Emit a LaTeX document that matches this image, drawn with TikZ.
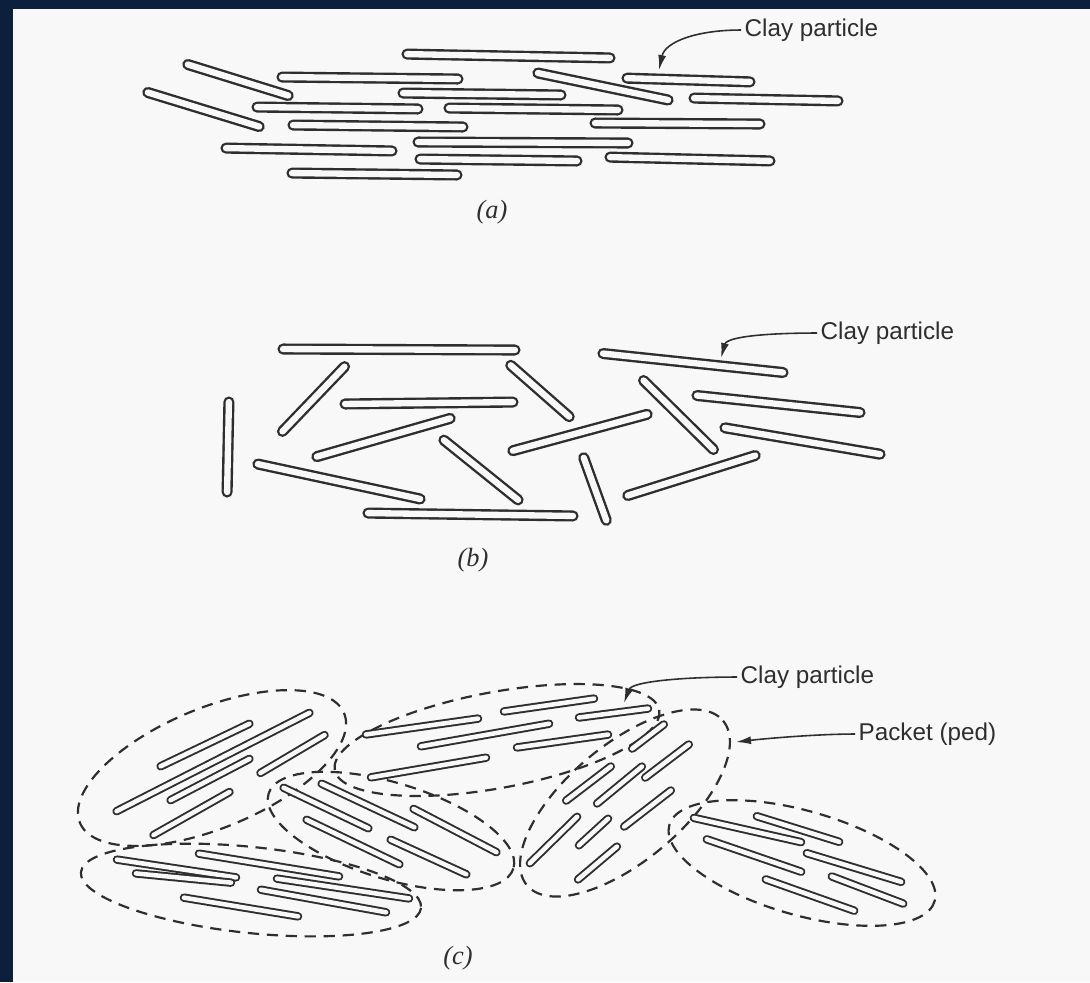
\documentclass[tikz,border=0pt]{standalone}
\usepackage{fontspec}
\setmainfont{Liberation Serif}
\setsansfont{Liberation Sans}
\usetikzlibrary{arrows.meta}
\definecolor{ink}{HTML}{2E2E2E}
\definecolor{paper}{HTML}{F8F8F8}
\definecolor{frame}{HTML}{0C1F3C}

\tikzset{
  particle/.style={draw=ink, line width=0.68pt, double=paper, double distance=1.8pt,
    line cap=round, shorten <=0.5mm, shorten >=0.5mm},
  fine/.style={draw=ink, line width=0.55pt, double=paper, double distance=1.3pt,
    line cap=round, shorten <=0.4mm, shorten >=0.4mm},
  packet/.style={draw=ink, line width=0.62pt, dash pattern=on 3.2pt off 2.2pt},
  lbl/.style={font=\sffamily\fontsize{6.9}{7}\selectfont, text=ink, inner sep=0pt, anchor=west},
  caption/.style={font=\rmfamily\itshape\fontsize{7.5}{8}\selectfont, text=ink, inner sep=0pt},
  leader/.style={draw=ink, line width=0.45pt, -{Latex[length=1.5mm,width=0.8mm]}}
}

\begin{document}
\begin{tikzpicture}[x=0.1mm, y=-0.1mm]
  % page and frame
  \fill[paper] (0,0) rectangle (1090,982);
  \useasboundingbox (0,0) rectangle (1090,982);
  \fill[frame] (0,0) rectangle (1090,9);
  \fill[frame] (0,0) rectangle (13,982);

  % ---------------- (a) dispersed, parallel particles ----------------
  \foreach \p/\q in {
    {(183,63)}/{(293,97)}, {(143,91)}/{(264,128)},
    {(402,54)}/{(615,58)}, {(277,77)}/{(463,79)}, {(398,93)}/{(566,95)},
    {(252,107)}/{(423,109)}, {(444,108)}/{(623,110)}, {(288,125)}/{(468,127)},
    {(221,148)}/{(397,151)}, {(413,142)}/{(633,143)}, {(415,159)}/{(582,161)},
    {(287,173)}/{(462,175)}, {(533,72)}/{(673,101)}, {(622,78)}/{(755,82)},
    {(689,98)}/{(843,101)}, {(590,123)}/{(765,124)}, {(605,157)}/{(775,161)}}
    \draw[particle] \p -- \q;

  \node[lbl] (la) at (744,30) {Clay particle};
  \coordinate (ta) at (659,70);
  \draw[leader] ([xshift=-0.3mm]la.west) .. controls +(-45,0) and +(6,-28) .. (ta);
  \node[caption] (capa) at (492,212) {(a)};

  % ---------------- (b) flocculated, random particles ----------------
  \foreach \p/\q in {
    {(278,349)}/{(520,350)}, {(348,363)}/{(279,435)}, {(507,362)}/{(573,420)},
    {(340,404)}/{(518,402)}, {(455,417)}/{(312,458)}, {(229,397)}/{(227,497)},
    {(253,463)}/{(425,500)}, {(440,437)}/{(522,503)}, {(363,513)}/{(578,516)},
    {(598,353)}/{(788,373)}, {(640,377)}/{(717,453)}, {(652,413)}/{(508,452)},
    {(692,395)}/{(865,413)}, {(720,427)}/{(885,455)}, {(582,453)}/{(608,525)},
    {(760,454)}/{(623,497)}}
    \draw[particle] \p -- \q;

  \node[lbl] (lb) at (820,333) {Clay particle};
  \coordinate (tb) at (721,358);
  \draw[leader] ([xshift=-0.3mm]lb.west) .. controls +(-45,0) and +(6,-22) .. (tb);
  \node[caption] (capb) at (473,560) {(b)};

  % ---------------- (c) packets (peds) of particles ----------------
  \draw[packet, rotate around={22.5:(212,768)}] (212,768) ellipse [x radius=143, y radius=60];
  \draw[packet, rotate around={10.5:(497,740)}] (497,740) ellipse [x radius=165, y radius=48];
  \draw[packet, rotate around={-17:(391,831)}] (391,831) ellipse [x radius=128, y radius=48];
  \draw[packet, rotate around={-6:(251,890)}] (251,890) ellipse [x radius=171, y radius=43];
  \draw[packet, rotate around={40:(625,803)}] (625,803) ellipse [x radius=128, y radius=58];
  \draw[packet, rotate around={-16:(802,863)}] (802,863) ellipse [x radius=138, y radius=52];

  \foreach \p/\q in {
    % upper-left packet
    {(157,768)}/{(253,722)}, {(113,813)}/{(313,711)}, {(257,775)}/{(328,733)},
    {(167,802)}/{(253,757)}, {(150,837)}/{(233,790)},
    % upper-middle packet
    {(362,735)}/{(482,718)}, {(500,712)}/{(598,698)}, {(575,718)}/{(652,708)},
    {(417,747)}/{(553,723)}, {(513,748)}/{(612,734)}, {(367,778)}/{(490,757)},
    % middle packet
    {(280,786)}/{(372,830)}, {(318,782)}/{(418,829)}, {(303,818)}/{(403,866)},
    {(410,807)}/{(500,854)}, {(387,838)}/{(470,876)},
    % lower-left packet
    {(113,859)}/{(240,878)}, {(195,853)}/{(343,877)}, {(132,873)}/{(235,883)},
    {(273,878)}/{(413,899)}, {(257,889)}/{(390,913)}, {(180,897)}/{(302,917)},
    % tall packet
    {(667,722)}/{(629,751)}, {(692,742)}/{(642,780)}, {(614,764)}/{(563,803)},
    {(645,764)}/{(594,806)}, {(674,788)}/{(621,829)}, {(580,814)}/{(527,866)},
    {(611,816)}/{(576,848)}, {(620,844)}/{(575,882)},
    % right packet
    {(690,817)}/{(805,843)}, {(753,815)}/{(843,843)}, {(703,838)}/{(805,873)},
    {(803,852)}/{(905,883)}, {(828,875)}/{(907,905)}, {(762,878)}/{(858,912)}}
    \draw[fine] \p -- \q;

  \node[lbl] (lc) at (740,677) {Clay particle};
  \coordinate (tc) at (624,703);
  \draw[leader] ([xshift=-0.3mm]lc.west) .. controls +(-50,0) and +(8,-22) .. (tc);

  \node[lbl] (lp) at (858,734) {Packet (ped)};
  \coordinate (tp) at (736,742);
  \draw[leader] ([xshift=-0.3mm]lp.west) .. controls +(-40,0) and +(25,-3) .. (tp);

  \node[caption] (capc) at (458,958) {(c)};
\end{tikzpicture}
\end{document}
